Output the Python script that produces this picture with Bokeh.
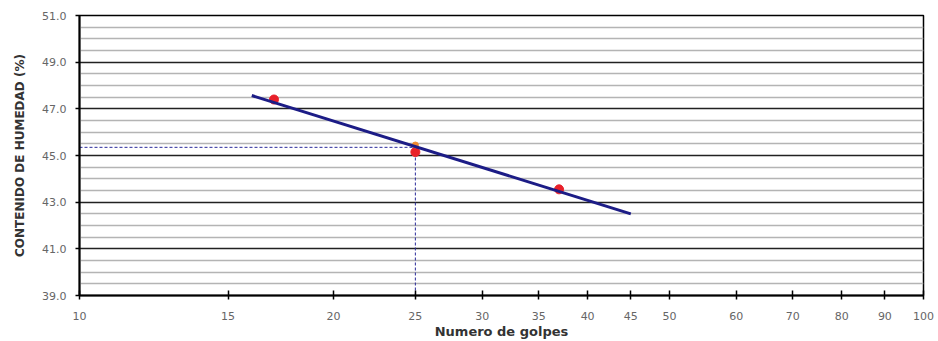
from bokeh.plotting import figure
from bokeh.models import FixedTicker, PrintfTickFormatter, Range1d
from bokeh.embed import file_html
from bokeh.resources import INLINE

# Data
golpes = [17, 25, 37]
humedad = [47.4, 45.15, 43.55]
trend_x = [16, 45]
trend_y = [47.57, 42.5]
ll_x = 25
ll_y = 45.35
ll_mark_y = 45.45
x_ticks = [10, 15, 20, 25, 30, 35, 40, 45, 50, 60, 70, 80, 90, 100]
x_tick_labels = [str(t) for t in x_ticks]
y_major = [39, 41, 43, 45, 47, 49, 51]
y_minor = [39.5, 40, 40.5, 41.5, 42, 42.5, 43.5, 44, 44.5, 45.5, 46, 46.5,
           47.5, 48, 48.5, 49.5, 50, 50.5]

p = figure(width=938, height=341, x_axis_type="log",
           x_range=Range1d(10, 100), y_range=Range1d(39, 51),
           output_backend="svg", toolbar_location=None,
           min_border_left=79, min_border_right=15,
           min_border_top=15, min_border_bottom=46)

p.background_fill_color = "white"
p.border_fill_color = "white"
p.outline_line_color = "black"
p.outline_line_width = 1.5

# grids
p.xgrid.visible = False
p.ygrid.ticker = FixedTicker(ticks=y_major, minor_ticks=y_minor)
p.ygrid.grid_line_color = "#222222"
p.ygrid.grid_line_width = 1.5
p.ygrid.minor_grid_line_color = "#b4b4b4"
p.ygrid.minor_grid_line_width = 1.5

# axes
xa = p.xaxis[0]
xa.ticker = FixedTicker(ticks=x_ticks, minor_ticks=[])
xa.major_label_overrides = {t: l for t, l in zip(x_ticks, x_tick_labels)}
xa.axis_label = "Numero de golpes"
ya = p.yaxis[0]
ya.ticker = FixedTicker(ticks=y_major, minor_ticks=[])
ya.formatter = PrintfTickFormatter(format="%.1f")
ya.axis_label = "CONTENIDO DE HUMEDAD (%)"

for ax in (xa, ya):
    ax.axis_line_color = "black"
    ax.axis_line_width = 2
    ax.major_tick_line_color = "black"
    ax.major_tick_line_width = 1.5
    ax.minor_tick_line_color = None
    ax.major_label_text_font = "DejaVu Sans"
    ax.major_label_text_font_size = "11px"
    ax.major_label_text_color = "#666666"
    ax.axis_label_text_font = "DejaVu Sans"
    ax.axis_label_text_font_style = "bold"
    ax.axis_label_text_color = "#333333"

xa.major_tick_in = 5
xa.major_tick_out = 4
xa.major_label_standoff = 12
xa.axis_label_text_font_size = "13px"
xa.axis_label_standoff = 1
ya.major_tick_in = 0
ya.major_tick_out = 4
ya.major_label_standoff = 9
ya.axis_label_text_font_size = "12px"
ya.axis_label_standoff = 12

# dashed liquid-limit guides
p.line([10, ll_x], [ll_y, ll_y], line_color="#2a2a9a", line_width=1, line_dash="3 2")
p.line([ll_x, ll_x], [39, ll_y], line_color="#2a2a9a", line_width=1, line_dash="3 2")

# data points
p.scatter(golpes, humedad, size=9, color="#e8202a")
p.scatter([ll_x], [ll_mark_y], size=6, color="#f08a30")

# trend line
p.line(trend_x, trend_y, line_color="#1c1c86", line_width=3)

open("out.html", "w").write(file_html(p, INLINE))
